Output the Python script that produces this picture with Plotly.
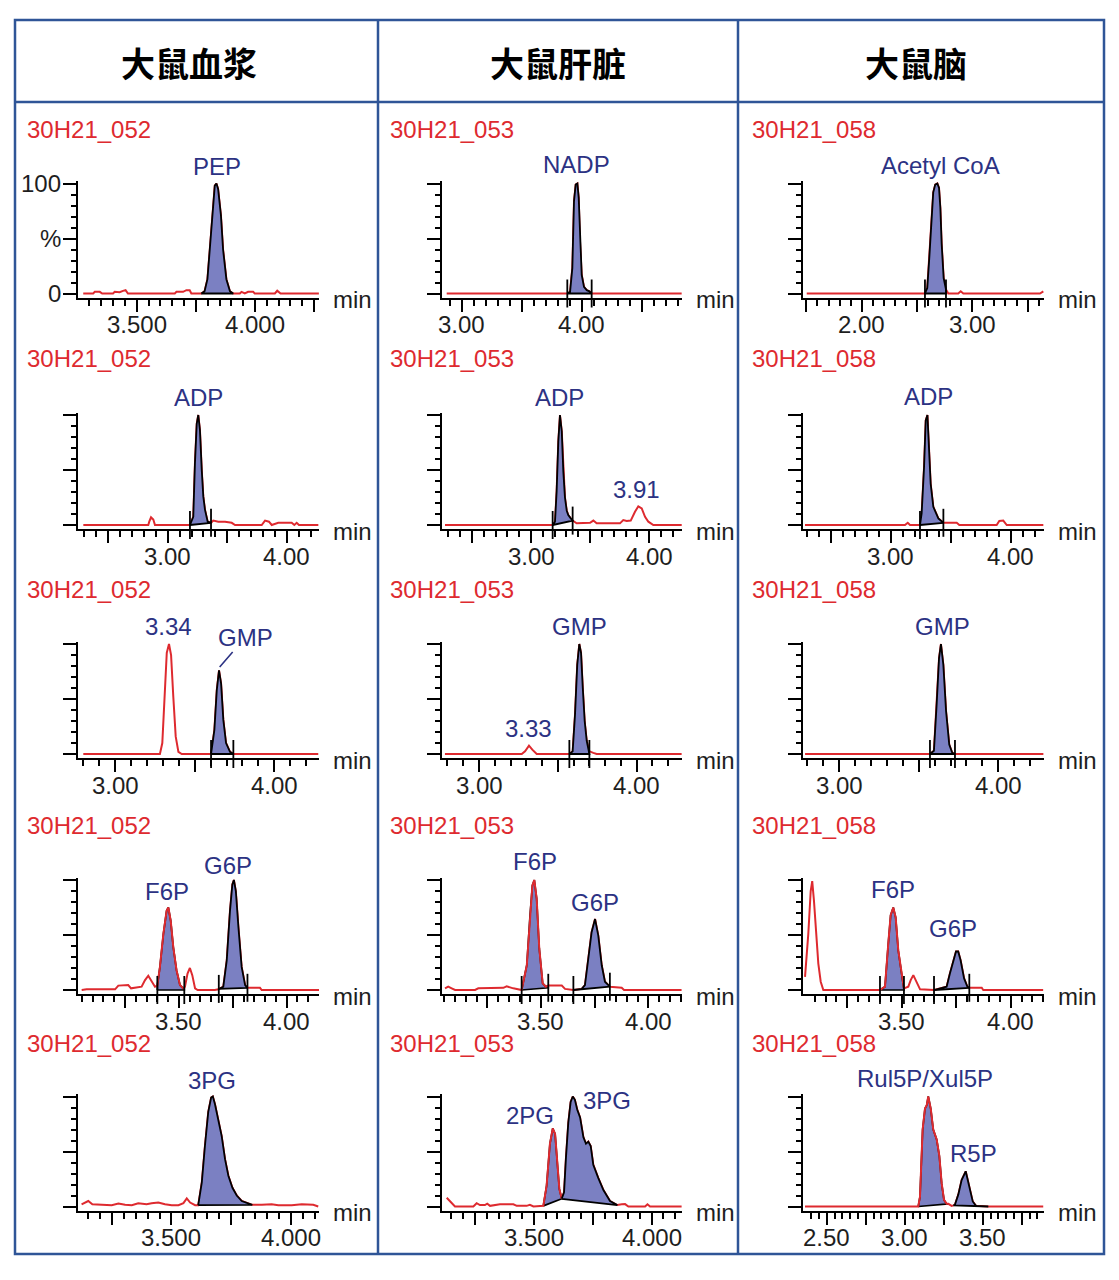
import numpy as np
import plotly.graph_objects as go

# ---------------- DATA ----------------
TISSUES = ["大鼠血浆", "大鼠肝脏", "大鼠脑"]
SAMPLES = ["30H21_052", "30H21_053", "30H21_058"]
Y_TICK_VALS = [0, 50, 100]
Y_TICK_TEXT = ["0", "%", "100"]

# chromatogram traces: (retention time [min], relative intensity [%])
PLASMA_PEP = [(3.274,0),(3.316,0),(3.323,1.5),(3.344,1.5),(3.354,0),(3.400,0),(3.407,1.5),(3.428,1.2),(3.442,2.4),(3.453,3),(3.463,0),(3.661,0),(3.668,1.5),(3.696,1.5),(3.710,3),(3.724,3),(3.731,0),(3.773,0),(3.787,2),(3.799,13),(3.809,40),(3.819,71),(3.830,98),(3.837,100),(3.844,95),(3.856,71),(3.865,40),(3.879,13),(3.894,2),(3.908,0),(3.936,0),(3.943,1.5),(3.957,0),(3.971,1.5),(3.992,1.5),(3.999,0),(4.084,0),(4.094,2.5),(4.108,0),(4.270,0)]
PLASMA_ADP = [(2.291,0),(2.837,0),(2.845,3),(2.860,7),(2.879,5),(2.893,0),(3.187,0),(3.215,7.5),(3.229,56),(3.244,92),(3.257,100),(3.271,86),(3.286,50),(3.299,26),(3.313,14),(3.336,3),(3.364,2),(3.383,4),(3.425,3),(3.482,3),(3.538,2),(3.566,0),(3.790,0),(3.818,4),(3.851,3),(3.874,0),(3.929,2),(4.042,2),(4.064,0),(4.084,2),(4.103,0),(4.266,0)]
PLASMA_GMP = [(2.801,0),(3.282,0),(3.297,10),(3.310,52),(3.325,92),(3.339,100),(3.352,90),(3.366,52),(3.381,16),(3.398,2),(3.419,0),(3.603,0),(3.624,22),(3.639,58),(3.653,76),(3.666,64),(3.680,31),(3.697,10),(3.722,2),(3.743,0),(4.276,0)]
PLASMA_HEXP = [(3.049,0),(3.072,0.6),(3.204,0.6),(3.219,4),(3.265,4.5),(3.278,1.5),(3.327,3),(3.343,9),(3.358,13),(3.374,7.5),(3.389,3),(3.400,4),(3.412,21),(3.428,51),(3.443,72),(3.451,75),(3.462,63),(3.474,39),(3.489,18),(3.505,4.5),(3.520,1.5),(3.528,3),(3.540,15),(3.551,20),(3.562,13.5),(3.575,1.5),(3.587,0),(3.667,0),(3.683,0.6),(3.706,3),(3.722,27),(3.737,72),(3.748,96),(3.755,100),(3.764,90),(3.776,57),(3.791,21),(3.807,4.5),(3.817,2),(3.830,2),(3.876,2),(3.884,0),(4.150,0)]
PLASMA_3PG = [(3.124,2),(3.138,3.6),(3.152,5),(3.169,2),(3.208,1.5),(3.250,1.2),(3.278,2.7),(3.306,1.5),(3.334,1.2),(3.361,3),(3.396,2),(3.417,3),(3.445,3.6),(3.473,2),(3.501,1.2),(3.529,1.2),(3.550,3),(3.564,7.3),(3.578,3.6),(3.599,1.2),(3.612,1.2),(3.627,22),(3.640,55),(3.654,86),(3.666,99),(3.673,100),(3.682,93),(3.696,80),(3.710,64),(3.724,43),(3.738,28),(3.755,17),(3.773,10),(3.794,5),(3.815,3),(3.838,1.5),(3.878,1.5),(3.919,2),(3.947,1.2),(4.003,1.2),(4.045,2),(4.093,1.5),(4.114,0)]

LIVER_NADP = [(2.875,0),(3.880,0),(3.903,1.5),(3.922,23),(3.936,84),(3.950,99),(3.964,100),(3.975,87),(3.986,47),(4.000,17),(4.019,6),(4.042,3),(4.064,2),(4.083,0),(4.833,0)]
LIVER_ADP = [(2.273,0),(3.183,0),(3.203,3),(3.217,31),(3.231,76),(3.245,100),(3.260,85),(3.273,49),(3.287,25),(3.302,13),(3.315,9),(3.336,6),(3.352,4),(3.386,1.5),(3.499,2),(3.527,4),(3.555,1.5),(3.752,1.5),(3.780,4.5),(3.809,3.6),(3.843,4),(3.879,12),(3.907,17),(3.936,15),(3.964,7.5),(3.992,3),(4.034,0),(4.274,0)]
LIVER_GMP = [(2.784,0),(3.271,0),(3.292,2.4),(3.317,7.6),(3.338,4),(3.366,0),(3.573,0),(3.594,2.4),(3.609,36),(3.623,81),(3.636,100),(3.647,92),(3.658,60),(3.670,30),(3.683,12),(3.700,2.4),(3.725,1),(3.746,0),(4.285,0)]
LIVER_HEXP = [(3.053,1.5),(3.068,3),(3.084,1.5),(3.100,0),(3.193,0),(3.208,1.5),(3.325,2),(3.340,3.3),(3.371,1.5),(3.410,0),(3.434,22.5),(3.449,68),(3.460,95),(3.469,100),(3.480,83),(3.492,38),(3.508,6),(3.523,3),(3.534,4),(3.597,4),(3.612,1),(3.651,0),(3.690,1),(3.705,4.5),(3.720,28.5),(3.736,52.5),(3.752,64.5),(3.767,49.5),(3.783,22.5),(3.798,7.5),(3.821,3),(3.876,2),(3.887,0),(4.155,0)]
LIVER_PG = [(3.130,8),(3.147,4),(3.165,0),(3.243,0),(3.257,3),(3.271,1.3),(3.292,1.3),(3.302,2.5),(3.314,0.6),(3.356,2),(3.413,2),(3.427,0.6),(3.469,0.6),(3.483,1.6),(3.498,0),(3.540,0.6),(3.554,19),(3.568,57),(3.580,71),(3.590,66),(3.599,38),(3.608,16),(3.618,7),(3.628,13),(3.636,44),(3.646,76),(3.656,95),(3.665,100),(3.674,97),(3.684,88),(3.696,81),(3.710,63),(3.721,57),(3.731,59),(3.741,55),(3.752,38),(3.773,26),(3.795,15),(3.823,5),(3.854,1.3),(3.873,2),(3.887,2.2),(3.901,0),(3.972,0),(3.982,2),(3.993,0),(4.127,0)]

BRAIN_ACCOA = [(1.503,0),(2.572,0),(2.593,5),(2.611,32),(2.633,63),(2.647,92),(2.665,99),(2.684,100),(2.699,96),(2.711,78),(2.723,45),(2.741,14),(2.762,3.6),(2.783,0),(2.873,0),(2.895,2),(2.919,0),(3.612,0),(3.642,2)]
BRAIN_ADP = [(2.286,0),(3.119,0),(3.142,2),(3.161,0),(3.244,0),(3.258,10.5),(3.278,52.5),(3.292,95),(3.306,100),(3.319,67.5),(3.333,37.5),(3.355,16.5),(3.397,6),(3.439,2),(3.550,2),(3.572,0),(3.883,0),(3.905,3.6),(3.938,4),(3.967,0),(4.272,0)]
BRAIN_GMP = [(2.787,0),(3.571,0),(3.596,3),(3.613,45),(3.628,87),(3.640,100),(3.655,81),(3.672,39),(3.692,8.5),(3.711,1),(3.728,0),(4.283,0)]
BRAIN_HEXP = [(3.056,12),(3.071,51),(3.082,90),(3.089,99),(3.097,81),(3.106,51),(3.117,24),(3.128,7.5),(3.140,0),(3.400,0),(3.423,3),(3.438,42),(3.449,68),(3.461,75),(3.472,66),(3.484,36),(3.500,12),(3.510,1.5),(3.530,3),(3.541,9),(3.553,13.5),(3.568,7.5),(3.584,0.6),(3.648,0),(3.675,1.2),(3.706,3),(3.721,15),(3.736,27),(3.749,35),(3.759,35),(3.770,27),(3.786,10.5),(3.801,3),(3.810,2),(3.867,2),(3.874,0),(4.149,0)]
BRAIN_PENTP = [(2.361,0),(3.087,0),(3.098,9),(3.115,70),(3.130,89),(3.141,92),(3.151,100),(3.167,89),(3.183,70),(3.205,61),(3.222,46),(3.237,21),(3.252,6),(3.269,2.4),(3.280,2.4),(3.301,0.6),(3.312,1),(3.322,1.5),(3.344,11),(3.365,24),(3.391,32),(3.414,18),(3.436,4.6),(3.457,0.6),(3.536,0),(3.888,0)]

# integrated peaks: (start time, baseline at start, end time, baseline at end)
PLASMA_PEP_PK = [(3.773,0,3.908,0)]
PLASMA_ADP_PK = [(3.187,0,3.364,2)]
PLASMA_GMP_PK = [(3.603,0,3.743,0)]
PLASMA_HEXP_PK = [(3.400,0,3.525,0),(3.685,1,3.818,2)]
PLASMA_3PG_PK = [(3.612,1.2,3.838,1.5)]
LIVER_NADP_PK = [(3.880,0,4.083,0)]
LIVER_ADP_PK = [(3.183,0,3.352,4)]
LIVER_GMP_PK = [(3.573,0,3.700,0)]
LIVER_HEXP_PK = [(3.410,0,3.534,2),(3.651,0,3.821,3)]
LIVER_PG_PK = [(3.540,0.6,3.618,7),(3.618,7,3.854,1.3)]
BRAIN_ACCOA_PK = [(2.572,0,2.762,0)]
BRAIN_ADP_PK = [(3.244,0,3.439,2)]
BRAIN_GMP_PK = [(3.571,0,3.728,0)]
BRAIN_HEXP_PK = [(3.400,0,3.510,0),(3.648,0,3.810,2)]
BRAIN_PENTP_PK = [(3.087,0,3.280,2.4),(3.312,1,3.536,0)]

# ---------------- LAYOUT / STYLE ----------------
W, H = 1119, 1280
COL_X = [(78, 319), (442, 682), (803, 1044)]
ROW_ZERO = [293.5, 525, 754, 990, 1206.5]
ROW_LABEL_Y = [129, 358, 589, 825, 1043]
COL_LABEL_X = [25, 388, 750]
HEADER_X = [189, 558, 916]
Y_LO, Y_HI = -4, 102
PXPU = 1.1

RED = "#DE2A2F"
FILL = "#7B80C2"
NAVY = "#2C3283"
BORDER = "#2F5597"
INK = "#1e1e1e"
FONT = "Liberation Sans, Arial, sans-serif"

PANELS = [
    dict(c=0, r=0, tr=PLASMA_PEP, pk=PLASMA_PEP_PK, under=[False], mk=False,
         cal=(3.5, 136.7, 4.0, 255), maj=0.25, mnr=0.05, lab=[3.5, 4.0], dec=3,
         names=[("PEP", 3.840, 115)], ylab=True),
    dict(c=0, r=1, tr=PLASMA_ADP, pk=PLASMA_ADP_PK, under=[False], mk=True,
         cal=(3.0, 167.7, 4.0, 286.7), maj=0.5, mnr=0.1, lab=[3.0, 4.0], dec=2,
         names=[("ADP", 3.257, 115.7)]),
    dict(c=0, r=2, tr=PLASMA_GMP, pk=PLASMA_GMP_PK, under=[False], mk=True,
         cal=(3.0, 115, 4.0, 274.3), maj=0.5, mnr=0.1, lab=[3.0, 4.0], dec=2,
         names=[("3.34", 3.333, 115.5)], arrow=("GMP", 3.657, 79, 26, -30)),
    dict(c=0, r=3, tr=PLASMA_HEXP, pk=PLASMA_HEXP_PK, under=[True, False], mk=True,
         cal=(3.25, 125, 4.0, 286.7), maj=0.25, mnr=0.05, lab=[3.5, 4.0], dec=2,
         names=[("F6P", 3.443, 90), ("G6P", 3.729, 113.6)]),
    dict(c=0, r=4, tr=PLASMA_3PG, pk=PLASMA_3PG_PK, under=[False], mk=False,
         cal=(3.25, 111.7, 4.0, 291), maj=0.25, mnr=0.05, lab=[3.5, 4.0], dec=3,
         names=[("3PG", 3.668, 115)]),
    dict(c=1, r=0, tr=LIVER_NADP, pk=LIVER_NADP_PK, under=[False], mk=True,
         cal=(3.0, 461.7, 4.0, 581.7), maj=0.5, mnr=0.1, lab=[3.0, 4.0], dec=2,
         names=[("NADP", 3.958, 117)]),
    dict(c=1, r=1, tr=LIVER_ADP, pk=LIVER_ADP_PK, under=[False], mk=True,
         cal=(3.0, 531, 4.0, 649.3), maj=0.5, mnr=0.1, lab=[3.0, 4.0], dec=2,
         names=[("ADP", 3.237, 115.5), ("3.91", 3.893, 32)]),
    dict(c=1, r=2, tr=LIVER_GMP, pk=LIVER_GMP_PK, under=[False], mk=True,
         cal=(3.0, 479, 4.0, 636.7), maj=0.5, mnr=0.1, lab=[3.0, 4.0], dec=2,
         names=[("GMP", 3.640, 115.7), ("3.33", 3.317, 23.4)]),
    dict(c=1, r=3, tr=LIVER_HEXP, pk=LIVER_HEXP_PK, under=[True, False], mk=True,
         cal=(3.25, 487.3, 4.0, 648.3), maj=0.25, mnr=0.05, lab=[3.5, 4.0], dec=2,
         names=[("F6P", 3.472, 116.6), ("G6P", 3.752, 79.7)]),
    dict(c=1, r=4, tr=LIVER_PG, pk=LIVER_PG_PK, under=[True, False], mk=False,
         cal=(3.25, 475, 4.0, 651.7), maj=0.25, mnr=0.05, lab=[3.5, 4.0], dec=3,
         names=[("2PG", 3.483, 83), ("3PG", 3.809, 96.8)]),
    dict(c=2, r=0, tr=BRAIN_ACCOA, pk=BRAIN_ACCOA_PK, under=[False], mk=True,
         cal=(2.0, 861.7, 3.0, 972.3), maj=0.5, mnr=0.1, lab=[2.0, 3.0], dec=2,
         names=[("Acetyl CoA", 2.708, 116.8)]),
    dict(c=2, r=1, tr=BRAIN_ADP, pk=BRAIN_ADP_PK, under=[False], mk=True,
         cal=(3.0, 890.7, 4.0, 1010.7), maj=0.5, mnr=0.1, lab=[3.0, 4.0], dec=2,
         names=[("ADP", 3.313, 116.6)]),
    dict(c=2, r=2, tr=BRAIN_GMP, pk=BRAIN_GMP_PK, under=[False], mk=True,
         cal=(3.0, 839, 4.0, 998.3), maj=0.5, mnr=0.1, lab=[3.0, 4.0], dec=2,
         names=[("GMP", 3.651, 115.7)]),
    dict(c=2, r=3, tr=BRAIN_HEXP, pk=BRAIN_HEXP_PK, under=[True, False], mk=True,
         cal=(3.25, 847.3, 4.0, 1010.7), maj=0.25, mnr=0.05, lab=[3.5, 4.0], dec=2,
         names=[("F6P", 3.461, 91), ("G6P", 3.736, 56)]),
    dict(c=2, r=4, tr=BRAIN_PENTP, pk=BRAIN_PENTP_PK, under=[True, False], mk=False,
         cal=(2.5, 826.7, 3.5, 982.7), maj=0.25, mnr=0.05, lab=[2.5, 3.0, 3.5], dec=2,
         names=[("Rul5P/Xul5P", 3.130, 116.5), ("R5P", 3.440, 48.4)]),
]


def peak_polygon(ts, ys, t0, b0, t1, b1):
    inner = (ts > t0) & (ts < t1)
    px = [t0, t0] + list(ts[inner]) + [t1, t1, t0]
    py = [b0, float(np.interp(t0, ts, ys))] + list(ys[inner]) + [float(np.interp(t1, ts, ys)), b1, b0]
    return px, py


def yfrac(v):
    return (v - Y_LO) / (Y_HI - Y_LO)


fig = go.Figure()
layout = dict(width=W, height=H, margin=dict(l=0, r=0, t=0, b=0, pad=0, autoexpand=False),
              paper_bgcolor="white", plot_bgcolor="white", showlegend=False)
annotations = []
shapes = []

for i, p in enumerate(PANELS):
    n = i + 1
    xa = "x" if n == 1 else f"x{n}"
    ya = "y" if n == 1 else f"y{n}"
    xk = "xaxis" if n == 1 else f"xaxis{n}"
    yk = "yaxis" if n == 1 else f"yaxis{n}"
    x0px, x1px = COL_X[p["c"]]
    z = ROW_ZERO[p["r"]]
    ta, pa, tb, pb = p["cal"]
    ppm = (pb - pa) / (tb - ta)
    r0 = ta + (x0px - pa) / ppm
    r1 = ta + (x1px - pa) / ppm

    kmin = int(np.ceil((r0 + 0.01) / p["maj"]))
    kmax = int(np.floor((r1 - 0.005) / p["maj"]))
    majors = [round(k * p["maj"], 6) for k in range(kmin, kmax + 1)]
    mmin = int(np.ceil((r0 + 0.005) / p["mnr"]))
    mmax = int(np.floor((r1 - 0.002) / p["mnr"]))
    minors = [round(k * p["mnr"], 6) for k in range(mmin, mmax + 1)]
    minors = [v for v in minors if all(abs(v - m) > 1e-6 for m in majors)]

    layout[xk] = dict(domain=[x0px / W, x1px / W], range=[r0, r1], anchor=ya,
                      showgrid=False, zeroline=False, showline=True, linecolor="black", linewidth=2,
                      tickmode="array", tickvals=majors, ticktext=["" for _ in majors],
                      ticks="outside", ticklen=12, tickwidth=2, tickcolor="black",
                      minor=dict(tickmode="array", tickvals=minors, ticks="outside", ticklen=6,
                                 tickwidth=1.5, tickcolor="black"),
                      fixedrange=True, automargin=False)
    ybot = z - Y_LO * PXPU
    ytop = z - Y_HI * PXPU
    layout[yk] = dict(domain=[1 - ybot / H, 1 - ytop / H], range=[Y_LO, Y_HI], anchor=xa,
                      showgrid=False, zeroline=False, showline=True, linecolor="black", linewidth=2,
                      tickmode="array", tickvals=Y_TICK_VALS, ticktext=["", "", ""],
                      ticks="outside", ticklen=13, tickwidth=2, tickcolor="black",
                      minor=dict(tickmode="array", tickvals=[10, 20, 30, 40, 60, 70, 80, 90],
                                 ticks="outside", ticklen=5, tickwidth=1.5, tickcolor="black"),
                      fixedrange=True, automargin=False)

    if p.get("ylab"):
        for v, s in zip(Y_TICK_VALS, Y_TICK_TEXT):
            annotations.append(dict(text=s, xref=f"{xa} domain", yref=ya, x=0, y=v,
                                    xanchor="right", yanchor="middle", xshift=-15, showarrow=False,
                                    font=dict(family=FONT, size=24, color=INK)))

    for v in majors:
        if any(abs(v - L) < 1e-6 for L in p["lab"]):
            annotations.append(dict(text=f"{v:.{p['dec']}f}", xref=xa, yref=f"{ya} domain",
                                    x=v, y=0, xanchor="center", yanchor="middle", yshift=-27,
                                    showarrow=False, font=dict(family=FONT, size=24, color=INK)))

    ts = np.array([q[0] for q in p["tr"]], dtype=float)
    ys = np.array([q[1] for q in p["tr"]], dtype=float)

    polys = [peak_polygon(ts, ys, *pk) for pk in p["pk"]]
    for (px_, py_), und in zip(polys, p["under"]):
        if und:
            fig.add_trace(go.Scatter(x=px_, y=py_, mode="lines", fill="toself", fillcolor=FILL,
                                     line=dict(color="black", width=1.7), xaxis=xa, yaxis=ya,
                                     hoverinfo="skip"))
    fig.add_trace(go.Scatter(x=ts, y=ys, mode="lines", line=dict(color=RED, width=2),
                             xaxis=xa, yaxis=ya, hoverinfo="skip"))
    for (px_, py_), und in zip(polys, p["under"]):
        if not und:
            fig.add_trace(go.Scatter(x=px_, y=py_, mode="lines", fill="toself", fillcolor=FILL,
                                     line=dict(color="black", width=1.8), xaxis=xa, yaxis=ya,
                                     hoverinfo="skip"))
    if p["mk"]:
        mx, my = [], []
        for t0, b0, t1, b1 in p["pk"]:
            mx += [t0, t1]
            my += [b0, b1]
        fig.add_trace(go.Scatter(x=mx, y=my, mode="markers", cliponaxis=False,
                                 marker=dict(symbol="line-ns", size=20, color="black",
                                             line=dict(color="black", width=1.8)),
                                 xaxis=xa, yaxis=ya, hoverinfo="skip"))

    annotations.append(dict(text=SAMPLES[p["c"]], xref="paper", yref="paper",
                            x=COL_LABEL_X[p["c"]] / W, y=1 - ROW_LABEL_Y[p["r"]] / H,
                            xanchor="left", yanchor="middle", showarrow=False,
                            font=dict(family=FONT, size=24, color=RED)))
    annotations.append(dict(text="min", xref=f"{xa} domain", yref=f"{ya} domain",
                            x=1 + 12 / (x1px - x0px), y=0, xanchor="left", yanchor="middle",
                            yshift=-2, showarrow=False,
                            font=dict(family=FONT, size=24, color=INK)))
    for txt, tx, ty in p["names"]:
        annotations.append(dict(text=txt, xref=xa, yref=f"{ya} domain", x=tx, y=yfrac(ty),
                                xanchor="center", yanchor="middle", showarrow=False,
                                font=dict(family=FONT, size=24, color=NAVY)))
    if "arrow" in p:
        txt, tx, ty, axp, ayp = p["arrow"]
        annotations.append(dict(text=txt, xref=xa, yref=ya, x=tx, y=ty, ax=axp, ay=ayp,
                                showarrow=True, arrowhead=0, arrowwidth=1.6, arrowcolor=NAVY,
                                standoff=0, startstandoff=0,
                                font=dict(family=FONT, size=24, color=NAVY)))

for k, name in enumerate(TISSUES):
    annotations.append(dict(text=f"<b>{name}</b>", xref="paper", yref="paper",
                            x=HEADER_X[k] / W, y=1 - 62 / H, xanchor="center", yanchor="middle",
                            showarrow=False,
                            font=dict(family="Noto Sans CJK SC", size=34, color="black")))


def pl(x0, y0, x1, y1):
    shapes.append(dict(type="line", xref="paper", yref="paper", x0=x0 / W, y0=1 - y0 / H,
                       x1=x1 / W, y1=1 - y1 / H, line=dict(color=BORDER, width=2.5)))


shapes.append(dict(type="rect", xref="paper", yref="paper", x0=15 / W, y0=1 - 20 / H,
                   x1=1104 / W, y1=1 - 1254 / H, line=dict(color=BORDER, width=2.5)))
pl(15, 102, 1104, 102)
pl(378, 20, 378, 1254)
pl(738, 20, 738, 1254)

layout["annotations"] = annotations
layout["shapes"] = shapes
fig.update_layout(**layout)
fig.write_html("out.html",
               post_script="document.body.style.margin='0';document.body.style.padding='0';"
                           "document.documentElement.style.overflow='hidden';")
